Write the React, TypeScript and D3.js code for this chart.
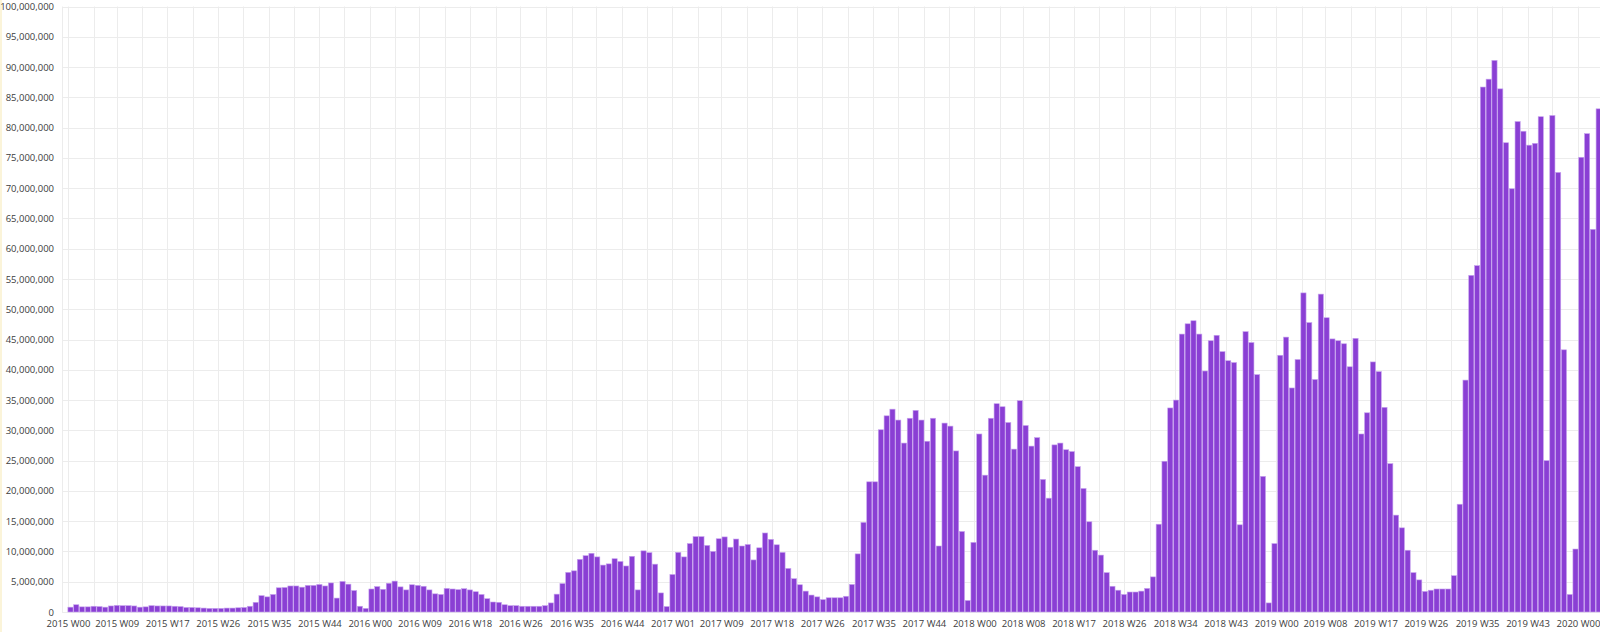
import { useEffect, useRef } from 'react';
import * as d3 from 'd3';

// weekly totals, in millions, one bar per week starting Sunday 2015-01-04
const firstWeek = new Date(2015, 0, 4);
const weeklyValues = [
  0.8, 1.2, 0.85, 0.85, 0.95, 0.9, 0.8, 1.0, 1.1, 1.05,
  1.05, 1.0, 0.8, 0.85, 1.05, 1.0, 1.0, 1.0, 0.95, 0.9,
  0.75, 0.75, 0.7, 0.65, 0.6, 0.6, 0.6, 0.65, 0.65, 0.7,
  0.75, 0.95, 1.6, 2.7, 2.5, 2.9, 4.0, 4.05, 4.3, 4.3,
  4.1, 4.4, 4.4, 4.55, 4.3, 4.8, 2.3, 5.05, 4.6, 3.55,
  0.95, 0.6, 3.8, 4.2, 3.75, 4.75, 5.1, 4.15, 3.65, 4.5,
  4.4, 4.25, 3.65, 3.0, 2.9, 3.9, 3.8, 3.7, 3.85, 3.65,
  3.35, 2.9, 2.2, 1.65, 1.6, 1.2, 1.05, 1.05, 0.95, 0.95,
  0.95, 0.95, 1.05, 1.5, 2.95, 4.7, 6.55, 6.8, 8.7, 9.3,
  9.7, 9.1, 7.75, 7.95, 8.8, 8.35, 7.6, 9.2, 3.65, 10.1,
  9.8, 7.9, 3.15, 0.9, 6.2, 9.85, 9.1, 11.3, 12.45, 12.45,
  11.0, 10.0, 12.1, 12.4, 10.7, 12.05, 10.9, 11.15, 8.6, 10.6,
  13.05, 12.0, 11.1, 9.85, 7.2, 5.5, 4.5, 3.45, 2.8, 2.5,
  2.05, 2.35, 2.35, 2.35, 2.6, 4.55, 9.6, 14.8, 21.5, 21.5,
  30.1, 32.4, 33.5, 31.7, 27.9, 32.0, 33.3, 31.7, 28.2, 32.0,
  10.9, 31.2, 30.7, 26.6, 13.3, 1.9, 11.5, 29.4, 22.6, 32.0,
  34.4, 33.9, 31.3, 26.9, 34.9, 30.8, 27.4, 28.8, 21.9, 18.8,
  27.6, 27.9, 26.8, 26.5, 24.0, 20.4, 14.9, 10.2, 9.4, 6.5,
  4.25, 3.6, 2.9, 3.3, 3.3, 3.45, 3.9, 5.8, 14.5, 24.9,
  33.7, 35.0, 45.9, 47.6, 48.1, 45.9, 39.8, 44.8, 45.7, 43.0,
  41.5, 41.2, 14.4, 46.3, 44.5, 39.2, 22.4, 1.5, 11.3, 42.4,
  45.4, 37.0, 41.7, 52.7, 47.8, 38.4, 52.5, 48.6, 45.1, 44.8,
  44.3, 40.5, 45.2, 29.4, 32.9, 41.3, 39.7, 33.8, 24.5, 16.0,
  13.9, 10.2, 6.5, 5.3, 3.4, 3.6, 3.8, 3.8, 3.8, 6.0,
  17.8, 38.3, 55.6, 57.2, 86.7, 88.0, 91.1, 86.4, 77.5, 69.9,
  81.0, 79.4, 77.1, 77.4, 81.8, 25.0, 82.0, 72.6, 43.3, 2.9,
  10.4, 75.1, 79.0, 63.2, 83.1,
];

const yTickValues = [
  0, 5e6, 10e6, 15e6, 20e6, 25e6, 30e6, 35e6, 40e6, 45e6, 50e6,
  55e6, 60e6, 65e6, 70e6, 75e6, 80e6, 85e6, 90e6, 95e6, 100e6,
];

const W = 1600;
const H = 632;
const font = '"Open Sans", sans-serif';

export default function App() {
  const svgRef = useRef<SVGSVGElement | null>(null);

  useEffect(() => {
    if (!svgRef.current) return;
    const svg = d3.select(svgRef.current);
    svg.selectAll('*').remove();

    const plotLeft = 62;
    const plotTop = 6.5;
    const plotBottom = 612;

    const data = weeklyValues.map((v, i) => ({
      date: d3.timeWeek.offset(firstWeek, i),
      value: v * 1e6,
    }));

    const x = d3.scaleTime()
      .domain([new Date(2015, 0, 1), new Date(2020, 0, 1)])
      .range([68, 1578]);

    const y = d3.scaleLinear()
      .domain([0, 100e6])
      .range([plotBottom, plotTop]);

    svg.append('rect')
      .attr('width', W).attr('height', H).attr('fill', '#fff');
    svg.append('rect')
      .attr('width', 2).attr('height', H).attr('fill', '#fbf4d9');

    // grid
    const grid = svg.append('g').attr('stroke', '#ececec').attr('stroke-width', 1);
    grid.selectAll('.hg')
      .data(yTickValues)
      .join('line')
      .attr('x1', plotLeft).attr('x2', W)
      .attr('y1', d => Math.round(y(d)) + 0.5)
      .attr('y2', d => Math.round(y(d)) + 0.5);
    grid.selectAll('.vg')
      .data(d3.timeMonth.range(new Date(2015, 0, 1), new Date(2020, 2, 1)))
      .join('line')
      .attr('x1', d => Math.round(x(d)) + 0.5)
      .attr('x2', d => Math.round(x(d)) + 0.5)
      .attr('y1', plotTop).attr('y2', plotBottom);
    grid.append('line')
      .attr('x1', plotLeft + 0.5).attr('x2', plotLeft + 0.5)
      .attr('y1', plotTop).attr('y2', plotBottom);

    // bars, with the light border the original tool draws round each mark
    const step = x(d3.timeWeek.offset(firstWeek, 1)) - x(firstWeek);
    const bw = step - 0.6;
    svg.append('g')
      .selectAll('rect')
      .data(data)
      .join('rect')
      .attr('x', d => x(d.date) - bw / 2)
      .attr('y', d => y(d.value))
      .attr('width', bw)
      .attr('height', d => plotBottom - y(d.value))
      .attr('fill', '#8a3fd4')
      .attr('stroke', '#c7a3ef')
      .attr('stroke-width', 0.6);

    // y axis
    const yAxis = svg.append('g')
      .attr('transform', `translate(57,0)`)
      .call(d3.axisLeft(y)
        .tickValues(yTickValues)
        .tickFormat(d => d3.format(',')(d as number))
        .tickSize(0)
        .tickPadding(3));
    yAxis.select('.domain').remove();
    yAxis.selectAll('text')
      .attr('font-family', font)
      .attr('font-size', 9.5)
      .attr('fill', '#3c3c3c');

    // x axis
    const xAxis = svg.append('g')
      .attr('transform', `translate(0,${plotBottom})`)
      .call(d3.axisBottom(x)
        .tickValues(d3.timeMonth.every(2)!.range(new Date(2015, 0, 1), new Date(2020, 0, 2)))
        .tickFormat(d => d3.timeFormat('%Y W%U')(d as Date))
        .tickSize(0)
        .tickPadding(8));
    xAxis.select('.domain').remove();
    xAxis.selectAll('text')
      .attr('font-family', font)
      .attr('font-size', 9.5)
      .attr('fill', '#3c3c3c');
  }, []);

  return (
    <svg
      ref={svgRef}
      width={W}
      height={H}
      style={{ position: 'absolute', left: 0, top: 0, display: 'block' }}
    />
  );
}
